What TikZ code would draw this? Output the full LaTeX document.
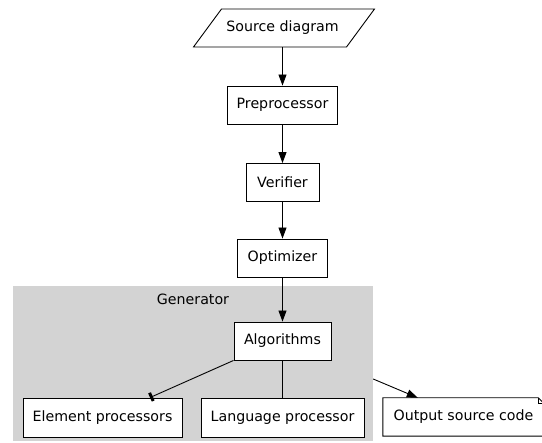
\documentclass[tikz,border=0pt]{standalone}
\usepackage{fontspec}
\setmainfont{DejaVu Sans}
\usetikzlibrary{arrows.meta,calc}
\definecolor{clustergrey}{RGB}{211,211,211}
\begin{document}
\begin{tikzpicture}[x=1pt,y=-1pt,
  every node/.style={font=\fontsize{14.2}{17}\selectfont, inner sep=0pt},
  proc/.style={draw, fill=white, line width=0.9pt, minimum height=38pt},
  link/.style={line width=0.9pt},
  flow/.style={link, -{Triangle[length=11pt,width=8pt]}},
  teeend/.style={link, -{Bar[width=9pt,line width=3pt]}},
]
\useasboundingbox (0,0) rectangle (542,443);

% generator cluster
\node (gen) [fill=clustergrey, minimum width=360pt, minimum height=155pt] at (193,363.5) {};
\node (genlabel) at (193,299) {Generator};

% input parallelogram
\node (src) [minimum width=150pt, minimum height=38pt] at (282.5,28) {Source diagram};
\draw[link] ($(src.center)+(-89,19)$) -- ($(src.center)+(-61,-19)$)
  -- ($(src.center)+(92,-19)$) -- ($(src.center)+(64,19)$) -- cycle;

% pipeline stages
\node (pre) [proc, minimum width=110pt] at (282.5,105) {Preprocessor};
\node (ver) [proc, minimum width=73pt] at (282.5,182.5) {Verifier};
\node (opt) [proc, minimum width=90pt] at (282.5,258) {Optimizer};
\node (alg) [proc, minimum width=97pt] at (282.5,341) {Algorithms};
\node (elem) [proc, minimum width=159pt, minimum height=39pt] at (102.5,417.5) {Element processors};
\node (lang) [proc, minimum width=163pt, minimum height=39pt] at (282.5,417.5) {Language processor};

% output note with folded corner
\node (out) [minimum width=161pt, minimum height=38pt] at (463.5,417) {Output source code};
\draw[link] (out.north west) -- ($(out.north east)+(-6,0)$) -- ($(out.north east)+(0,6)$)
  -- (out.south east) -- (out.south west) -- cycle;
\draw[link] ($(out.north east)+(-6,0)$) -- ($(out.north east)+(-6,6)$) -- ($(out.north east)+(0,6)$);

% connectors
\draw[flow] (src) -- (pre);
\draw[flow] (pre) -- (ver);
\draw[flow] (ver) -- (opt);
\draw[flow] (opt) -- (alg);
\draw[teeend] (alg.south west) -- ($(elem.north)+(47.5,0)$);
\draw[link] (alg) -- (lang);
\path (gen.east) ++(0,15.5) coordinate (gtail);
\draw[flow] (gtail) -- ($(out.north west)+(35,0)$);
\end{tikzpicture}
\end{document}
